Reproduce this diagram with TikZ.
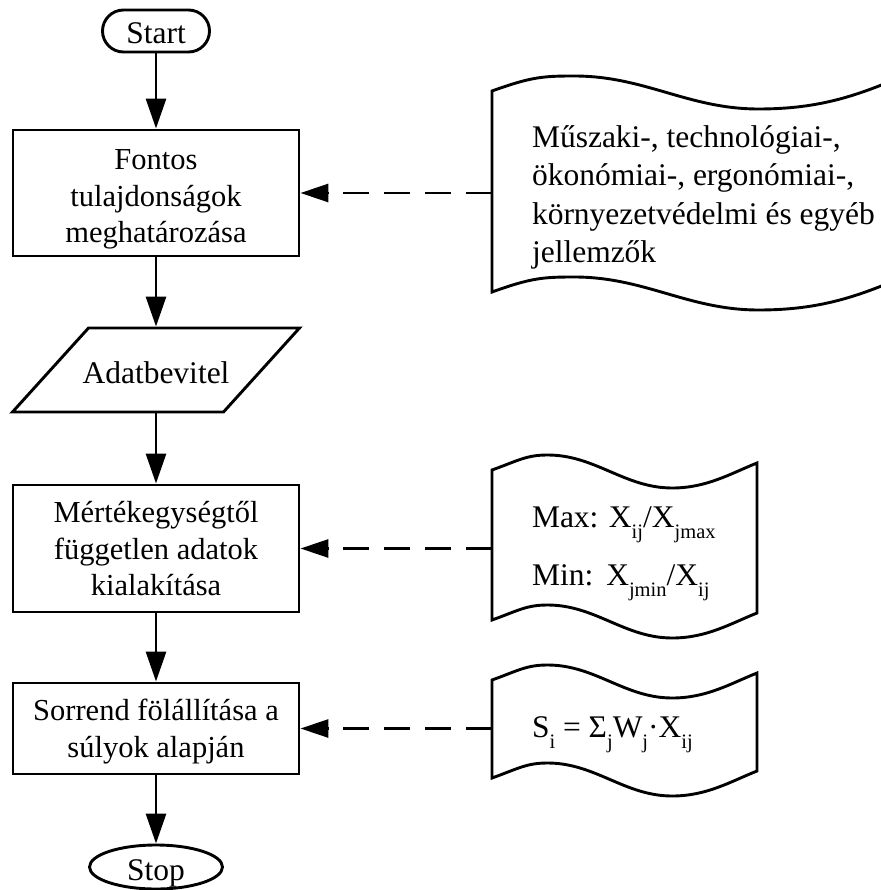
\documentclass[tikz,border=0pt]{standalone}
\usepackage{fontspec}
\setmainfont{Liberation Serif}
\usetikzlibrary{arrows.meta,shapes.geometric}

% lowered, smaller subscript as set by the drawing program
\newcommand\lowsub[1]{\raisebox{-11pt}{\fontsize{20.5pt}{20.5pt}\selectfont #1}}

\begin{document}
\begin{tikzpicture}[x=1pt,y=-1pt,
  line width=2.9pt,
  every node/.style={font=\fontsize{31.5pt}{36.5pt}\selectfont, inner sep=0pt},
  procbox/.style={draw, rectangle, minimum width=286pt, align=center,
    font=\fontsize{30.5pt}{36.5pt}\selectfont, text depth=7pt},
  terminal/.style={draw, rectangle, rounded corners=21pt, minimum width=107pt,
    minimum height=42pt, text height=28pt, text depth=2pt},
  stopshape/.style={draw, ellipse, minimum width=133pt, minimum height=44pt,
    text height=28pt, text depth=2pt},
  iobox/.style={minimum width=135pt, minimum height=84pt, text height=28pt, text depth=2pt},
  doctext/.style={anchor=west, align=left, inner xsep=40pt, outer sep=0pt, text depth=7pt},
  flow/.style={-{Triangle[length=30pt,width=20pt]}},
  feed/.style={-{Triangle[length=28pt,width=18pt]}, dash pattern=on 26pt off 15pt},
  % wavy tape edge, left to right: start x, start y, width
  waveR/.style n args={3}{insert path={
    .. controls +({0.1*#3},{-0.036*#3}) and +({-0.08*#3},0) .. ({#1+0.21*#3},{#2-15})
    .. controls +({0.18*#3},0) and +({-0.18*#3},0) .. ({#1+0.68*#3},{#2+18})
    .. controls +({0.13*#3},0) and +({-0.1*#3},{0.04*#3}) .. ({#1+#3},{#2-7})}},
  % the same edge, traversed right to left
  waveL/.style n args={3}{insert path={
    .. controls +({-0.1*#3},{0.04*#3}) and +({0.13*#3},0) .. ({#1+0.68*#3},{#2+18})
    .. controls +({-0.18*#3},0) and +({0.18*#3},0) .. ({#1+0.21*#3},{#2-15})
    .. controls +({-0.08*#3},0) and +({0.1*#3},{-0.036*#3}) .. (#1,#2)}}
]
\useasboundingbox (0,0) rectangle (880,890);

% main flow
\node[terminal] (start) at (156,31) {Start};
\node[procbox, minimum height=126pt, text height=104pt, text depth=4pt] (b1) at (156,193)
  {Fontos\\tulajdonságok\\meghatározása};
\node[iobox] (io) at (156,370) {Adatbevitel};
\draw ([shift={(-67.5,-42)}]io.center) -- ([shift={(143.5,-42)}]io.center)
  -- ([shift={(67.5,42)}]io.center) -- ([shift={(-143.5,42)}]io.center) -- cycle;
\node[procbox, minimum height=127pt, text height=101pt] (b2) at (156,548.5)
  {Mértékegységtől\\független adatok\\kialakítása};
\node[procbox, minimum height=91pt, text height=64.5pt] (b3) at (156,728.5)
  {Sorrend fölállítása a\\súlyok alapján};
\node[stopshape] (stop) at (156,867) {Stop};

\draw[flow] (start) -- (b1);
\draw[flow] (b1) -- (io);
\draw[flow] (io) -- (b2);
\draw[flow] (b2) -- (b3);
\draw[flow] (b3) -- (stop);

% input documents
\draw (492,292) -- (492,91) [waveR={492}{91}{392}] -- (884,285) [waveL={492}{292}{392}] -- cycle;
\node[doctext, font=\fontsize{31.5pt}{38pt}\selectfont, text height=142pt] (d1) at (492,194.5)
  {Műszaki-, technológiai-,\\ökonómiai-, ergonómiai-,\\környezetvédelmi és egyéb\\jellemzők};

\draw (492,620) -- (492,470) [waveR={492}{470}{265}] -- (757,613) [waveL={492}{620}{265}] -- cycle;
\node[doctext, font=\fontsize{31.5pt}{58pt}\selectfont, text height=86pt] (d2) at (492,545.5)
  {Max: X\lowsub{ij}/X\lowsub{jmax}\\Min:\hspace{13pt}X\lowsub{jmin}/X\lowsub{ij}};

\draw (492,778) -- (492,680) [waveR={492}{680}{265}] -- (757,771) [waveL={492}{778}{265}] -- cycle;
\node[doctext, text height=28pt] (d3) at (492,726.5)
  {S\lowsub{i} = Σ\lowsub{j}W\lowsub{j}·X\lowsub{ij}};

\draw[feed] (b1.east -| d1.west) -- (b1.east);
\draw[feed] (b2.east -| d2.west) -- (b2.east);
\draw[feed] (b3.east -| d3.west) -- (b3.east);
\end{tikzpicture}
\end{document}
